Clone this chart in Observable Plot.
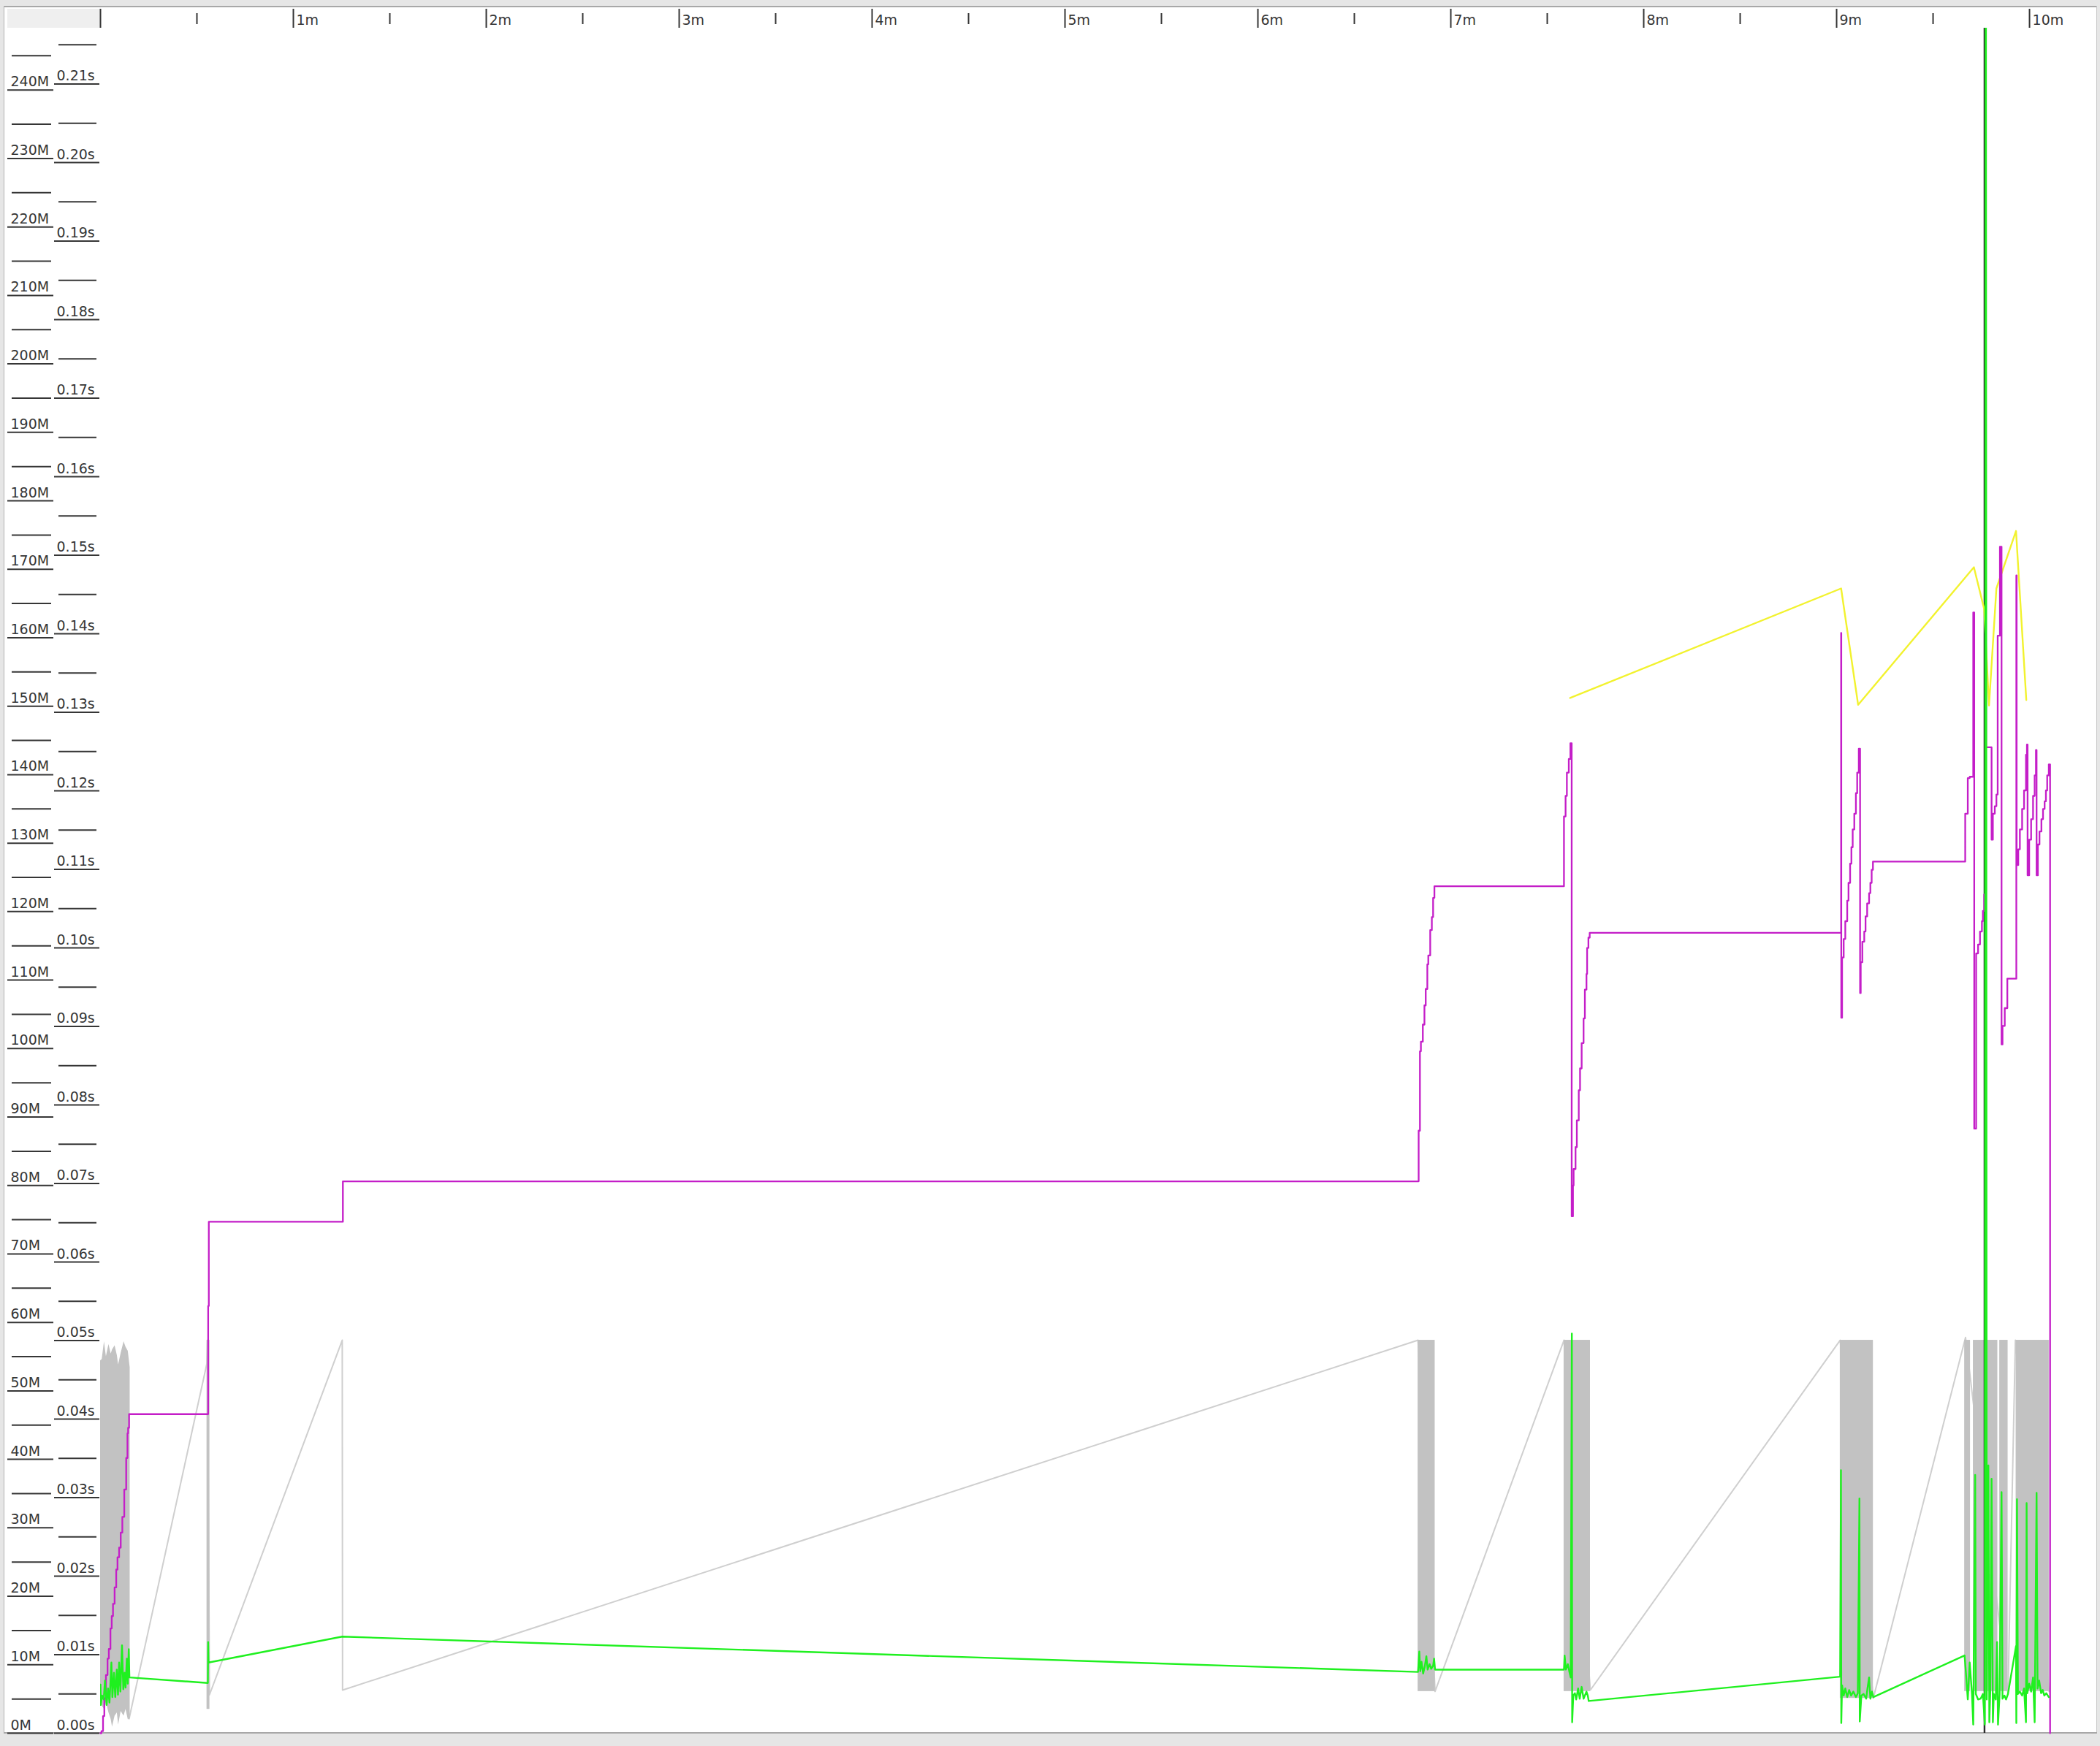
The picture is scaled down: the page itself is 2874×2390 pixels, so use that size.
<!DOCTYPE html>
<html>
<head>
<meta charset="utf-8">
<script src="https://cdn.jsdelivr.net/npm/d3@7"></script>
<script src="https://cdn.jsdelivr.net/npm/@observablehq/plot@0.6"></script>
<style>
html, body { margin: 0; padding: 0; }
body { width: 2874px; height: 2390px; background: #e6e6e6; position: relative; overflow: hidden; }
.layer { position: absolute; left: 0; top: 0; }
.layer svg { display: block; }
</style>
</head>
<body>
<div style="position:absolute;left:5px;top:8px;width:2865px;height:2365px;background:#ffffff;"></div>
<div style="position:absolute;left:5px;top:8px;width:2865px;height:2px;background:#a8a8a8;"></div>
<div style="position:absolute;left:5px;top:8px;width:1px;height:2365px;background:#b4b4b4;"></div>
<div style="position:absolute;left:2869px;top:8px;width:1px;height:2365px;background:#c4c4c4;"></div>
<div style="position:absolute;left:5px;top:2371px;width:2865px;height:2px;background:#a8a8a8;"></div>
<div style="position:absolute;left:10px;top:12px;width:127px;height:26px;background:#efefef;"></div>
<div id="ruler" class="layer"></div>
<div id="memAxis" class="layer"></div>
<div id="pauseAxis" class="layer"></div>
<div id="mainPlot" class="layer"></div>
<div id="pausePlot" class="layer"></div>
<script>
// ---------- tick values ----------
const minuteTicks = [0, 1, 2, 3, 4, 5, 6, 7, 8, 9, 10];
const halfMinuteTicks = [0.5, 1.5, 2.5, 3.5, 4.5, 5.5, 6.5, 7.5, 8.5, 9.5];
const memMajorTicks = [0, 10, 20, 30, 40, 50, 60, 70, 80, 90, 100, 110, 120, 130, 140, 150, 160, 170, 180, 190, 200, 210, 220, 230, 240];
const memMinorTicks = [5, 15, 25, 35, 45, 55, 65, 75, 85, 95, 105, 115, 125, 135, 145, 155, 165, 175, 185, 195, 205, 215, 225, 235, 245];
const pauseMajorTicks = [0.00, 0.01, 0.02, 0.03, 0.04, 0.05, 0.06, 0.07, 0.08, 0.09, 0.10, 0.11, 0.12, 0.13, 0.14, 0.15, 0.16, 0.17, 0.18, 0.19, 0.20, 0.21];
const pauseMinorTicks = [0.005, 0.015, 0.025, 0.035, 0.045, 0.055, 0.065, 0.075, 0.085, 0.095, 0.105, 0.115, 0.125, 0.135, 0.145, 0.155, 0.165, 0.175, 0.185, 0.195, 0.205, 0.215];

// ---------- series (time in seconds) ----------
// used tenured heap (MB), step line
const tenuredUsed = [
  [0,0],[0.3,0.3],[0.8,2.5],[1.2,5.1],[1.7,8.5],[2.2,10.9],[2.6,12.3],[3.1,15.3],[3.5,17.1],[3.9,18.9],
  [4.4,21.3],[4.9,23.9],[5.3,25.7],[5.8,27.1],[6.3,29.3],[6.8,31.6],[7.4,35.6],[8.0,40.2],[8.4,43.8],[8.6,44.6],[8.9,46.6],
  [33.5,62.4],[33.7,74.7],
  [75.4,80.6],
  [410.0,88.0],[410.4,99.6],[410.7,101.0],[411.3,103.5],[411.8,106.3],[412.2,108.7],[412.7,112.3],[413.0,113.6],[413.6,117.3],[414.1,119.2],[414.5,122.0],[414.9,123.7],
  [455.2,133.9],[455.7,136.9],[456.1,140.3],[456.7,142.3],[457.2,144.6],
  [457.6,75.5],[458.0,80.0],[458.2,82.4],[458.8,85.6],[459.2,89.5],[459.8,93.9],[460.2,97.1],[460.7,100.8],[461.3,104.4],[461.7,108.6],[462.2,110.9],[462.4,114.7],[462.8,116.2],[463.2,116.9],
  [541.4,160.7],[541.45,104.5],[541.7,113.3],[542.2,116.0],[542.7,118.6],[543.3,121.6],[543.7,124.2],[544.2,127.0],[544.6,129.4],[545.0,132.0],[545.5,134.3],[546.0,137.3],[546.4,140.3],[546.9,143.8],
  [547.3,108.1],[547.5,112.6],[548.0,115.6],[548.6,117.1],[549.0,119.3],[549.5,121.2],[550.1,122.7],[550.5,124.2],[550.9,126.1],[551.3,127.3],
  [580.0,134.3],[580.8,139.5],[581.4,139.7],[582.5,163.7],[582.8,88.3],[583.4,113.9],[584.0,115.2],[584.6,117.1],[585.2,118.6],[585.5,120.1],[585.9,122.5],
  [586.4,156.7],[586.5,144.0],[588.2,130.5],[588.6,134.3],[589.2,135.4],[589.7,137.1],[590.1,160.3],[590.8,173.3],[591.3,100.6],[591.6,103.3],[592.3,105.9],[593.1,110.2],
  [595.9,169.1],[596.0,126.8],[596.5,129.1],[597.0,132.0],[597.7,135.0],[598.3,137.7],[598.9,142.9],[599.2,144.4],
  [599.4,125.3],[599.9,130.5],[600.5,133.5],[601.1,136.9],[601.6,139.9],[602.0,143.6],
  [602.2,125.3],[602.6,129.8],[603.1,131.7],[603.7,133.5],[604.2,135.0],[604.7,136.1],[605.1,137.7],[605.5,139.9],[606.0,141.5],[606.4,0]
];
// young generation size line (MB)
const youngTotal = [
  [457.1,151.2],[541.4,167.2],[546.7,150.2],[582.7,170.3],[585.9,164.2],[587.4,150.1],[589.7,167.2],[595.8,175.6],[599.0,150.9]
];
// used young heap sawtooth between bursts (MB)
const youngUsedLine = [
  [8.9,2.1],[33.1,54.0],[33.3,57.4],[33.9,5.6],[75.2,57.4],[75.3,6.3],[409.8,57.4],[415.1,6.1],[455.2,57.4],
  [463.4,6.3],[541.1,57.4],[551.4,5.1],[580.1,57.8],[593.3,5.7],[595.6,57.4],[606.1,6.1]
];
// dense used-young bursts: envelope of first burst [t, low, high]
const firstBurst = [
  [0,5.3,54.4],[0.5,4.0,54.6],[1.2,3.5,57.2],[1.8,4.5,55.0],[2.6,3.0,56.8],[3.3,2.0,55.4],[3.7,0.9,56.0],
  [4.5,2.5,56.6],[5.2,3.0,55.2],[5.6,1.2,53.8],[6.4,3.2,55.5],[7.3,2.5,57.2],[7.9,3.5,56.4],[8.6,2.0,55.8],[9.2,2.1,53.4]
];
// other bursts [t1, t2, low, high]
const youngUsedBursts = [
  [33.1,34.0,3.5,57.4],
  [409.8,415.1,6.1,57.4],
  [455.2,463.4,6.1,57.4],
  [541.1,551.4,5.1,57.4],
  [579.8,581.6,6.1,57.4],
  [582.5,590.1,6.1,57.4],
  [590.7,593.3,6.1,57.4],
  [595.8,606.1,6.1,57.4]
];
// full GC events
const fullGcTimes = [586.0];
// GC pause times (s)
const gcPauses = [
  [0.0,0.0062],[0.1,0.0036],[0.5,0.0048],[1.0,0.0043],[1.4,0.0067],[1.9,0.0036],[2.35,0.0057],[2.8,0.0039],[3.4,0.0090],[3.7,0.0046],
  [4.2,0.0077],[4.6,0.0046],[5.07,0.0081],[5.45,0.0049],[5.8,0.0090],[6.2,0.0053],[6.7,0.0112],[7.1,0.0056],[7.5,0.0077],[7.8,0.0058],
  [8.2,0.0095],[8.5,0.0063],[8.8,0.0107],[9.0,0.0071],
  [33.4,0.0064],[33.5,0.0116],[33.6,0.0090],
  [75.2,0.0123],
  [409.8,0.0078],[410.2,0.0104],[410.5,0.0079],[410.9,0.0091],[411.4,0.0076],[411.9,0.0085],[412.4,0.0098],[412.8,0.0081],[413.4,0.0088],[413.9,0.0082],[414.5,0.0086],[414.8,0.0095],[415.1,0.0081],
  [455.2,0.0081],[455.4,0.0099],[455.8,0.0081],[456.4,0.0088],[456.9,0.0078],[457.3,0.0071],[457.65,0.0509],[457.75,0.0014],
  [458.1,0.0048],[458.6,0.0051],[459.0,0.0043],[459.6,0.0057],[460.1,0.0044],[460.7,0.0059],[461.3,0.0044],[462.2,0.0053],[462.6,0.0048],[462.9,0.0041],
  [541.1,0.0072],[541.35,0.0335],[541.45,0.0013],[541.7,0.0061],[542.2,0.0048],[542.7,0.0057],[543.3,0.0046],[543.9,0.0055],[544.5,0.0048],[545.2,0.0053],
  [546.0,0.0046],[546.6,0.0051],[547.1,0.0299],[547.2,0.0015],[547.7,0.0048],[548.4,0.0050],[549.2,0.0044],[549.6,0.0057],[550.1,0.0071],[550.5,0.0044],[551.0,0.0053],[551.4,0.0046],
  [579.8,0.0099],[580.2,0.0078],[580.8,0.0043],[581.4,0.0090],[582.1,0.0050],[582.5,0.0011],[583.1,0.0329],[583.3,0.0050],[584.0,0.0043],[584.8,0.0044],[585.5,0.0050],
  [586.1,0.0011],[586.4,0.26],[586.7,0.0043],[587.2,0.0341],[587.5,0.0014],[587.8,0.0053],[588.2,0.0324],[588.6,0.0014],[588.9,0.0050],[589.5,0.0043],
  [589.9,0.0116],[590.2,0.0011],[590.7,0.0050],[591.3,0.0307],[591.6,0.0044],[592.2,0.0048],[592.7,0.0043],[593.3,0.0050],
  [595.8,0.0111],[595.9,0.0013],[596.1,0.0298],[596.4,0.0050],[597.0,0.0053],[597.7,0.0048],[598.3,0.0057],[598.9,0.0014],[599.1,0.0293],[599.3,0.0051],
  [599.9,0.0063],[600.5,0.0053],[601.1,0.0071],[601.6,0.0014],[602.2,0.0306],[602.5,0.0057],[603.0,0.0067],[603.6,0.0051],[604.1,0.0055],[604.6,0.0048],[605.2,0.0051],[606.0,0.0046]
];

// ---------- layout ----------
const W = 2874, H = 2390;
const PLOT_LEFT = 137, PLOT_RIGHT_MARGIN = 5, PLOT_TOP = 38, PLOT_BOTTOM_MARGIN = 18;
const xDomain = [0, 620.9];
const memDomain = [0, 249.04];
const pauseDomain = [0, 0.21712];
const FONT = "DejaVu Sans, Verdana, sans-serif";
const FS = 19;
const INK = "#363636";
const base = {width: W, height: H, style: {background: "transparent", overflow: "visible"}};
const X = d => d[0], Y = d => d[1];

// ruler
document.getElementById("ruler").append(Plot.plot({
  ...base,
  marginLeft: PLOT_LEFT, marginRight: PLOT_RIGHT_MARGIN, marginTop: 12, marginBottom: H - PLOT_TOP,
  x: {domain: xDomain, axis: null},
  marks: [
    Plot.ruleX(minuteTicks, {x: d => d * 60, stroke: INK, strokeWidth: 2}),
    Plot.ruleX(halfMinuteTicks, {x: d => d * 60, stroke: INK, strokeWidth: 2, insetTop: 6, insetBottom: 5}),
    Plot.text(minuteTicks.filter(d => d > 0), {x: d => d * 60, text: d => d + "m", frameAnchor: "bottom", textAnchor: "start", lineAnchor: "bottom", dx: 4, dy: -5, fontSize: FS, fontFamily: FONT, fill: INK})
  ]
}));

// memory axis
document.getElementById("memAxis").append(Plot.plot({
  ...base,
  marginLeft: 10, marginRight: W - 73, marginTop: PLOT_TOP, marginBottom: PLOT_BOTTOM_MARGIN,
  y: {domain: memDomain, axis: null},
  marks: [
    Plot.ruleY(memMajorTicks, {stroke: INK, strokeWidth: 2}),
    Plot.ruleY(memMinorTicks, {stroke: INK, strokeWidth: 2, insetLeft: 6, insetRight: 3}),
    Plot.text(memMajorTicks, {y: d => d, text: d => d + "M", frameAnchor: "left", textAnchor: "start", lineAnchor: "bottom", dx: 4, dy: -5, fontSize: FS, fontFamily: FONT, fill: INK})
  ]
}));

// pause axis
document.getElementById("pauseAxis").append(Plot.plot({
  ...base,
  marginLeft: 74, marginRight: W - 136, marginTop: PLOT_TOP, marginBottom: PLOT_BOTTOM_MARGIN,
  y: {domain: pauseDomain, axis: null},
  marks: [
    Plot.ruleY(pauseMajorTicks, {stroke: INK, strokeWidth: 2}),
    Plot.ruleY(pauseMinorTicks, {stroke: INK, strokeWidth: 2, insetLeft: 6, insetRight: 4}),
    Plot.text(pauseMajorTicks, {y: d => d, text: d => d.toFixed(2) + "s", frameAnchor: "left", textAnchor: "start", lineAnchor: "bottom", dx: 3, dy: -5, fontSize: FS, fontFamily: FONT, fill: INK})
  ]
}));

// memory plot
document.getElementById("mainPlot").append(Plot.plot({
  ...base,
  marginLeft: PLOT_LEFT, marginRight: PLOT_RIGHT_MARGIN, marginTop: PLOT_TOP, marginBottom: PLOT_BOTTOM_MARGIN,
  x: {domain: xDomain, axis: null},
  y: {domain: memDomain, axis: null},
  marks: [
    Plot.line(youngUsedLine, {x: X, y: Y, stroke: "#cfcfcf", strokeWidth: 2}),
    Plot.areaY(firstBurst, {x: X, y1: d => d[1], y2: d => d[2], fill: "#c2c2c2"}),
    Plot.rect(youngUsedBursts, {x1: d => d[0], x2: d => d[1], y1: d => d[2], y2: d => d[3], fill: "#c2c2c2"}),
    Plot.ruleX(fullGcTimes, {stroke: "#2b2b2b", strokeWidth: 2.4}),
    Plot.line(youngTotal, {x: X, y: Y, stroke: "#f2f22e", strokeWidth: 2.4}),
    Plot.line(tenuredUsed, {x: X, y: Y, curve: "step-after", stroke: "#c41ec8", strokeWidth: 2.3})
  ]
}));

// pause plot
document.getElementById("pausePlot").append(Plot.plot({
  ...base,
  marginLeft: PLOT_LEFT, marginRight: PLOT_RIGHT_MARGIN, marginTop: PLOT_TOP, marginBottom: PLOT_BOTTOM_MARGIN,
  x: {domain: xDomain, axis: null},
  y: {domain: pauseDomain, axis: null},
  marks: [
    Plot.line(gcPauses, {x: X, y: Y, stroke: "#1ff01f", strokeWidth: 2.4, clip: true})
  ]
}));
</script>
</body>
</html>
